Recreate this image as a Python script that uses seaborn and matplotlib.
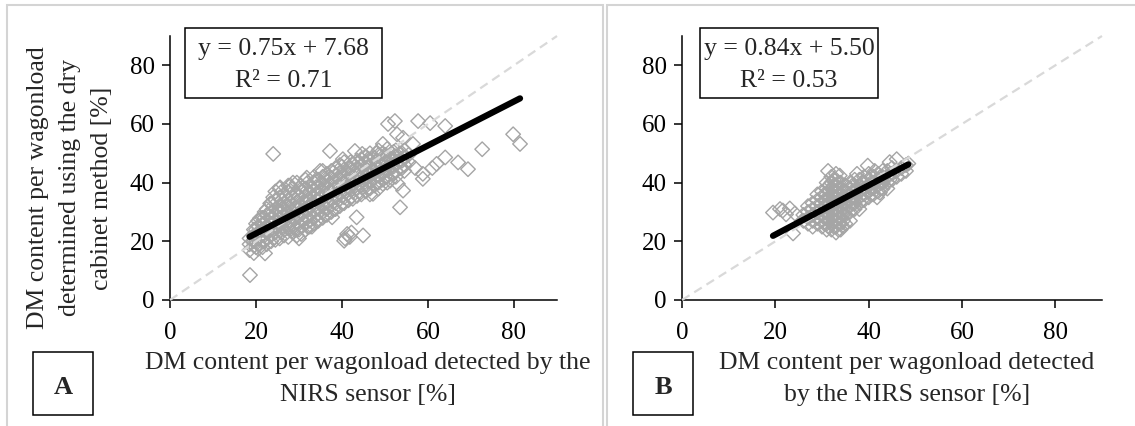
import matplotlib
matplotlib.use('Agg')
import matplotlib.pyplot as plt
from matplotlib.patches import Rectangle
import pandas as pd
import seaborn as sns

# ---- Data ----
# Panel A: dense core, one x column each with its y values
a_core_x = [18.5, 19.5, 20.5, 21.5, 22.5, 23.5, 24.5, 25.5, 26.5, 27.5,
            28.5, 29.5, 30.5, 31.5, 32.5, 33.5, 34.5, 35.5, 36.5, 37.5,
            38.5, 39.5, 40.5, 41.5, 42.5, 43.5, 44.5, 45.5, 46.5, 47.5,
            48.5, 49.5, 50.5, 51.5, 52.5, 53.5, 54.5, 55.5]
a_core_y = [
    [17, 19, 21],
    [16, 18.5, 20, 22, 24],
    [17.5, 19, 21, 23, 25, 27],
    [18, 20, 22.5, 24, 26, 28],
    [19, 21, 23, 25, 27, 29, 31],
    [20, 22, 24, 26, 28, 30, 33],
    [20.5, 23, 25, 27, 29, 31, 34, 37],
    [21, 23.5, 26, 28, 30, 32, 35, 38],
    [22, 24, 26.5, 29, 31, 33, 36],
    [21.5, 24.5, 27, 29.5, 32, 34, 37, 39],
    [23, 25.5, 28, 30, 32.5, 35, 38],
    [22, 24, 26.5, 29, 31, 33.5, 36, 40],
    [22.5, 25, 27.5, 30, 32, 34.5, 37, 39],
    [24, 26, 28.5, 31, 33, 35.5, 38, 41],
    [25, 27, 29.5, 32, 34, 36.5, 39],
    [26, 28, 30.5, 33, 35, 37.5, 40, 42],
    [27, 29.5, 31.5, 34, 36, 38.5, 41],
    [28, 30, 32.5, 35, 37, 39.5, 42, 44],
    [29, 31, 33.5, 36, 38, 40.5, 43],
    [30, 32.5, 34.5, 37, 39, 41.5, 44],
    [31, 33, 35.5, 38, 40, 42.5, 45],
    [32, 34.5, 36.5, 39, 41, 43.5, 46],
    [33, 35, 37.5, 40, 42, 44.5, 47],
    [34, 36.5, 38.5, 41, 43, 45],
    [34.5, 37, 39.5, 42, 44, 46.5],
    [35.5, 38, 40.5, 43, 45, 47.5],
    [36, 39, 41.5, 44, 46, 48],
    [37, 39.5, 42, 44.5, 47, 49],
    [36, 38, 40.5, 43, 45.5, 48, 50],
    [39, 41.5, 44, 46, 48.5],
    [38, 40, 42.5, 45, 47, 49.5, 51],
    [41, 43.5, 46, 48, 50],
    [40, 42, 44.5, 47, 49, 51.5],
    [43, 45.5, 48, 50],
    [42, 44, 46.5, 49, 51],
    [45, 47.5, 50],
    [44, 46, 48.5, 51],
    [47, 49.5],
]
# second, staggered set of columns that fills the dense core
a_fill_x = [20, 22, 24, 26, 28, 30, 32, 34, 36, 38, 40, 42, 44, 46, 48,
            50, 52, 54]
a_fill_y = [
    [18, 20, 22, 24, 26],
    [20, 22, 24, 26, 28, 30],
    [21, 24, 26, 28, 30, 32, 35],
    [23, 25, 27, 30, 32, 34, 37],
    [24, 26, 29, 31, 33, 36, 39],
    [24, 26, 28.5, 31, 33, 35.5, 38],
    [25, 28, 30.5, 33, 35, 37.5, 40],
    [27, 29, 31.5, 34, 36, 38.5, 41],
    [29, 31.5, 34, 36.5, 39, 41.5],
    [31, 33.5, 36, 38.5, 41, 43.5],
    [33, 35.5, 38, 40.5, 43, 45.5],
    [35, 37.5, 40, 42.5, 45, 47],
    [37, 39.5, 42, 44.5, 47],
    [38, 40.5, 43, 45.5, 48],
    [40, 42.5, 45, 47.5, 50],
    [42, 44.5, 47, 49.5],
    [43, 45.5, 48, 50.5],
    [45, 47.5, 50],
]
# Panel A: scattered points outside the core
a_out_x = [24.0, 37.2, 18.6, 22.1, 20.9, 23.3, 43.4, 44.9, 40.7, 41.2,
           41.8, 40.5, 42.2, 53.5, 54.2, 53.0, 50.7, 52.3, 52.8, 57.7,
           60.5, 64.0, 72.6, 79.8, 81.4, 67.0, 69.3, 64.0, 62.0, 61.0,
           58.8, 58.8, 57.0, 56.5, 54.2, 49.5, 43.0, 44.7, 40.2, 34.9,
           31.8, 25.6, 28.6, 49.5, 51.2, 47.2, 37.7, 30.0, 33.0]
a_out_y = [49.8, 50.8, 8.5, 15.9, 27.8, 32.9, 28.2, 22.0, 21.0, 22.5,
           21.5, 20.2, 23.0, 31.6, 37.3, 39.6, 60.0, 61.0, 56.5, 61.0,
           60.3, 59.3, 51.4, 56.5, 53.2, 46.9, 44.6, 48.6, 46.4, 45.0,
           43.0, 41.3, 45.0, 53.2, 55.3, 53.2, 50.8, 49.8, 48.0, 44.0,
           41.7, 38.4, 40.0, 39.6, 40.7, 36.2, 28.2, 21.0, 25.0]

# Panel B
b_core_x = [26, 27, 28, 29, 30, 31, 32, 33, 34, 35, 36, 37, 38, 39, 40,
            41, 42, 43, 44, 45, 46, 47, 48]
b_core_y = [
    [27, 29],
    [26, 28, 30, 32],
    [25, 27, 29, 31, 33],
    [26, 28, 30, 32, 34],
    [25, 27, 29, 31, 33, 35, 37],
    [24, 26, 28, 30, 32, 34, 36, 38, 40],
    [24, 26, 28, 30, 32, 34, 36, 38, 40, 42],
    [23, 25, 27, 29, 31, 33, 35, 37, 39, 41, 43],
    [24, 26, 28, 30, 32, 34, 36, 38, 40],
    [26, 29, 31, 33, 35, 37, 39],
    [30, 32, 34, 36, 38, 40],
    [31, 33, 35, 37, 39, 41],
    [33, 35, 37, 39, 41],
    [34, 36, 38, 40, 42],
    [35, 37, 39, 41, 43],
    [36, 38, 40, 42],
    [37, 39, 41, 43],
    [38, 40, 42, 44],
    [40, 42, 44],
    [41, 43, 45],
    [42, 44],
    [43, 45],
    [44, 46],
]
b_fill_x = [30.5, 31.5, 32.5, 33.5, 34.5, 36.5, 38.5, 40.5, 42.5, 44.5]
b_fill_y = [
    [26, 28, 30, 32, 34, 36],
    [25, 27, 29, 31, 33, 35, 37, 39],
    [25, 27, 29, 31, 33, 35, 37, 39, 41],
    [24, 26, 28, 30, 32, 34, 36, 38, 40],
    [25, 27, 29, 31, 33, 35, 37],
    [31, 33, 35, 37, 39],
    [34, 36, 38, 40],
    [36, 38, 40, 42],
    [38, 40, 42],
    [41, 43],
]
b_out_x = [19.5, 21.6, 22.3, 23.1, 24.2, 21.0, 23.8, 31.3, 33.8, 37.5,
           39.8, 41.3, 42.4, 41.8, 44.5, 46.0, 48.5, 44.0, 38.0, 36.0, 29.0]
b_out_y = [29.8, 30.5, 29.2, 31.2, 29.5, 31.0, 22.7, 44.0, 42.4, 43.0,
           45.8, 44.0, 36.6, 35.0, 47.0, 48.0, 46.5, 38.0, 31.0, 27.0, 36.0]

fit_slope = [0.75, 0.84]
fit_icpt = [7.68, 5.50]
fit_r2 = [0.71, 0.53]
ticks = [0, 20, 40, 60, 80]
panel_tags = ['A', 'B']


def to_frame(cols, ox, oy):
    xs, ys = [], []
    for cx, cy in cols:
        for x, col in zip(cx, cy):
            xs += [x] * len(col)
            ys += col
    return pd.DataFrame({'nirs': xs + ox, 'cabinet': ys + oy})


df_a = to_frame([(a_core_x, a_core_y), (a_fill_x, a_fill_y)], a_out_x, a_out_y)
df_b = to_frame([(b_core_x, b_core_y), (b_fill_x, b_fill_y)], b_out_x, b_out_y)

# ---- Style ----
sns.set_theme(style='white')
plt.rcParams['font.family'] = ['Liberation Serif', 'DejaVu Serif']

W, H = 1135, 426
fig = plt.figure(figsize=(W / 100, H / 100), dpi=100)


def fx(px):
    return px / W


def fy(py):
    return 1 - py / H


# panel frames (light gray, like the document layout)
for x0, x1 in [(7, 603), (607, 1140)]:
    fig.add_artist(Rectangle((fx(x0), fy(430)), fx(x1 - x0), (430 - 5) / H,
                             transform=fig.transFigure, fill=False,
                             ec='#d4d4d4', lw=1.5))

axes_px = [(170, 557), (682, 1102)]
eq_box = [(185, 382), (700, 878)]
tag_box = [(33, 93), (633, 693)]

for i, df in enumerate([df_a, df_b]):
    l, r = axes_px[i]
    ax = fig.add_axes([fx(l), fy(300), fx(r - l), (300 - 36) / H])

    sns.scatterplot(data=df, x='nirs', y='cabinet', marker='D', s=55,
                    facecolor='none', edgecolor='#a5a5a5', linewidth=1.0,
                    ax=ax, zorder=2)
    sns.lineplot(x=[0, 90], y=[0, 90], color='#d9d9d9', linewidth=1.6,
                 linestyle=(0, (4, 2.5)), ax=ax, zorder=3, clip_on=False)
    xmin, xmax = df['nirs'].min(), df['nirs'].max()
    sns.lineplot(x=[xmin, xmax],
                 y=[fit_slope[i] * xmin + fit_icpt[i], fit_slope[i] * xmax + fit_icpt[i]],
                 color='black', linewidth=4.5, solid_capstyle='round', ax=ax, zorder=4)

    ax.set_xlim(0, 90)
    ax.set_ylim(0, 90)
    ax.set_xticks(ticks)
    ax.set_yticks(ticks)
    ax.set_xlabel('')
    ax.set_ylabel('')
    for s in ['top', 'right']:
        ax.spines[s].set_visible(False)
    for s in ['left', 'bottom']:
        ax.spines[s].set_color('black')
        ax.spines[s].set_linewidth(1.1)
    ax.tick_params(axis='both', direction='out', length=6, width=1.1,
                   color='black', labelsize=18, labelcolor='black')
    ax.tick_params(axis='x', pad=10)
    ax.tick_params(axis='y', pad=5)
    ax.tick_params(left=True, bottom=True)

    # equation box
    e0, e1 = eq_box[i]
    fig.add_artist(Rectangle((fx(e0), fy(98)), fx(e1 - e0), (98 - 28) / H,
                             transform=fig.transFigure, fill=False, ec='black', lw=1.1))
    cx = (e0 + e1) / 2
    fig.text(fx(cx), fy(49), f'y = {fit_slope[i]:.2f}x + {fit_icpt[i]:.2f}',
             ha='center', va='center', fontsize=18.5)
    fig.text(fx(cx), fy(81), f'R² = {fit_r2[i]:.2f}',
             ha='center', va='center', fontsize=18.5)

    # panel tag box
    t0, t1 = tag_box[i]
    fig.add_artist(Rectangle((fx(t0), fy(415)), fx(t1 - t0), (415 - 352) / H,
                             transform=fig.transFigure, fill=False, ec='black', lw=1.1))
    fig.text(fx((t0 + t1) / 2), fy(388), panel_tags[i], ha='center', va='center',
             fontsize=19, fontweight='bold')

fig.text(fx(368), fy(379), 'DM content per wagonload detected by the\nNIRS sensor [%]',
         ha='center', va='center', fontsize=18.5, linespacing=1.6)
fig.text(fx(907), fy(379), 'DM content per wagonload detected\nby the NIRS sensor [%]',
         ha='center', va='center', fontsize=18.5, linespacing=1.6)
fig.text(fx(70), fy(188), 'DM content per wagonload\ndetermined using the dry\ncabinet method [%]',
         ha='center', va='center', rotation=90, fontsize=18.5, linespacing=1.6)

fig.savefig('out.png', dpi=100)
